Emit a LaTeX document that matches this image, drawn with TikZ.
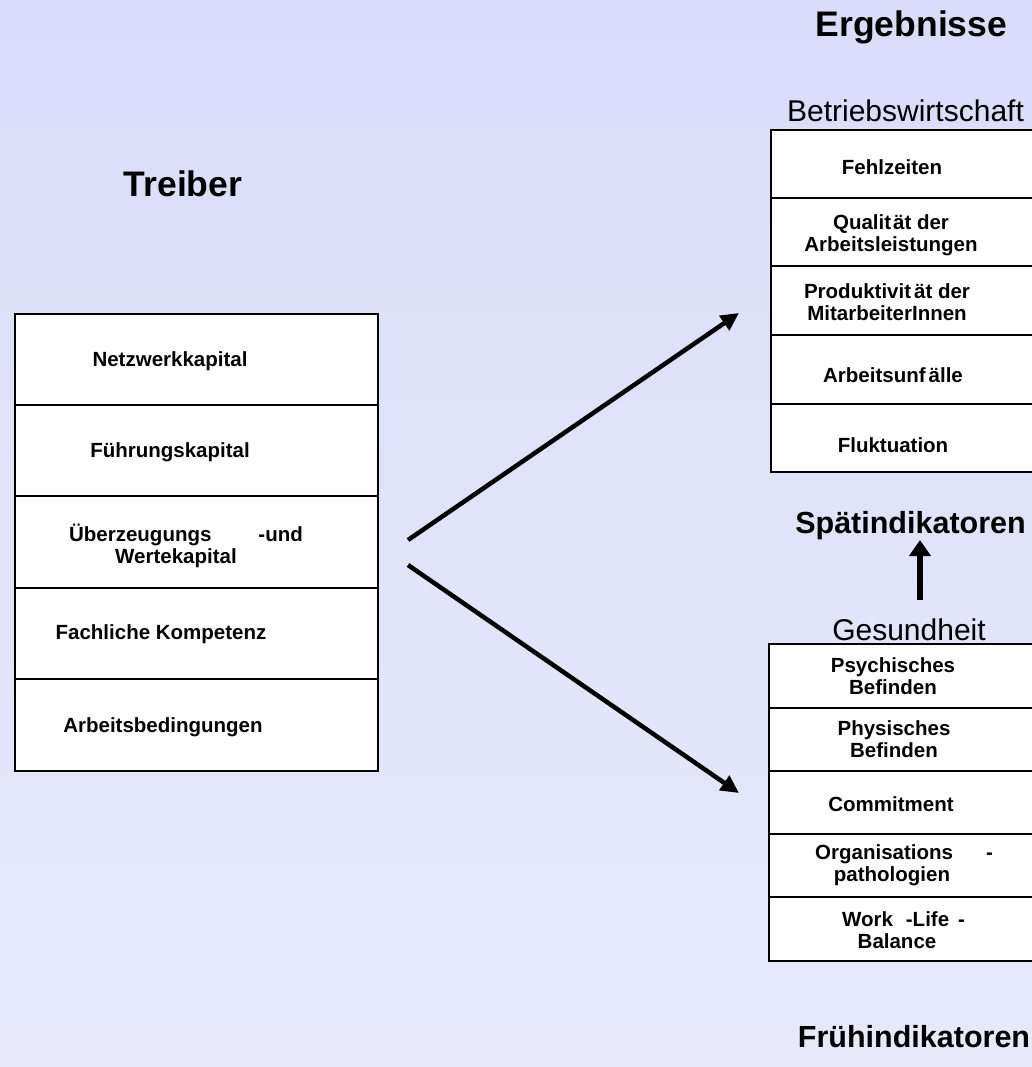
\documentclass[tikz,border=0pt]{standalone}
\usepackage{fontspec}
\setmainfont{Liberation Sans}
\usetikzlibrary{arrows.meta}
\definecolor{bgtop}{RGB}{218,221,250}
\definecolor{bgbottom}{RGB}{231,233,251}
\begin{document}
\begin{tikzpicture}[x=1pt,y=-1pt,
  cell/.style={draw=black, line width=1.8pt, fill=white, anchor=north west, inner sep=0pt},
  celltext/.style={font=\fontsize{20.5}{22}\selectfont\bfseries, align=center, inner sep=0pt},
  heading/.style={font=\fontsize{35.5}{40}\selectfont\bfseries, inner sep=0pt, anchor=base},
  subhead/.style={font=\fontsize{30}{34}\selectfont, inner sep=0pt, anchor=base},
  stage/.style={font=\fontsize{30.5}{34}\selectfont\bfseries, inner sep=0pt, anchor=base},
  flow/.style={line width=4.5pt, -{Triangle[length=18pt,width=17pt]}},
  rise/.style={line width=6pt, -{Triangle[length=16pt,width=21pt]}}]

% page and background
\useasboundingbox (0,0) rectangle (1032,1067);
\shade[top color=bgtop, bottom color=bgbottom] (0,0) rectangle (1032,1067);

% headings
\node[heading] (ergebnisse) at (911.5,37) {Ergebnisse};
\node[heading] (treiber) at (183,197) {Treiber};

% drivers
\node[cell, minimum width=363pt, minimum height=91pt] (l1) at (14,313) {};
\node[cell, minimum width=363pt, minimum height=91pt] (l2) at (14,404) {};
\node[cell, minimum width=363pt, minimum height=92pt] (l3) at (14,495) {};
\node[cell, minimum width=363pt, minimum height=91pt] (l4) at (14,587) {};
\node[cell, minimum width=363pt, minimum height=92pt] (l5) at (14,678) {};

\node[celltext, anchor=base] (t1) at (170,366.5) {Netzwerkkapital};
\node[celltext, anchor=base] (t2) at (170,457.5) {Führungskapital};
\node[celltext] (t3) at (186,546) {Überzeugungs\hspace{47pt}-und\\Wertekapital\rule{20pt}{0pt}};
\node[celltext, anchor=base] (t4) at (161,639.5) {Fachliche Kompetenz};
\node[celltext, anchor=base] (t5) at (163,732.5) {Arbeitsbedingungen};

% business outcomes
\node[subhead] (bw) at (905.5,122) {Betriebswirtschaft};
\node[cell, minimum width=280pt, minimum height=68pt] (r1) at (770,129) {};
\node[cell, minimum width=280pt, minimum height=68pt] (r2) at (770,197) {};
\node[cell, minimum width=280pt, minimum height=69pt] (r3) at (770,265) {};
\node[cell, minimum width=280pt, minimum height=69pt] (r4) at (770,334) {};
\node[cell, minimum width=280pt, minimum height=68pt] (r5) at (770,403) {};

\node[celltext, anchor=base] (s1) at (892,174.5) {Fehlzeiten};
\node[celltext] (s2) at (891,235) {Qualit\hspace{2pt}ät der\\Arbeitsleistungen};
\node[celltext] (s3) at (887,302) {Produktivit\hspace{3pt}ät der\\MitarbeiterInnen};
\node[celltext, anchor=base] (s4) at (893,382.5) {Arbeitsunf\hspace{3pt}älle};
\node[celltext, anchor=base] (s5) at (893,452.5) {Fluktuation};

\node[stage] (spaet) at (910.5,533) {Spätindikatoren};

% health outcomes
\node[subhead] (ges) at (909,640) {Gesundheit};
\node[cell, minimum width=280pt, minimum height=64pt] (g1) at (768,643) {};
\node[cell, minimum width=280pt, minimum height=63pt] (g2) at (768,707) {};
\node[cell, minimum width=280pt, minimum height=63pt] (g3) at (768,770) {};
\node[cell, minimum width=280pt, minimum height=63pt] (g4) at (768,833) {};
\node[cell, minimum width=280pt, minimum height=64pt] (g5) at (768,896) {};

\node[celltext] (h1) at (893,676) {Psychisches\\Befinden};
\node[celltext] (h2) at (894,739) {Physisches\\Befinden};
\node[celltext, anchor=base] (h3) at (891,811.5) {Commitment};
\node[celltext] (h4) at (904,865) {Organisations\hspace{33pt}-\\pathologien\rule{24pt}{0pt}};
\node[celltext] (h5) at (903.5,930) {Work\hspace{13pt}-Life\hspace{9pt}-\\Balance\rule{13pt}{0pt}};

\node[stage] (frueh) at (914,1047) {Frühindikatoren};

% connectors
\coordinate (u0) at (408,540);
\coordinate (u1) at (739,313);
\coordinate (d0) at (408,565);
\coordinate (d1) at (739,793);
\coordinate (v0) at (920,600);
\coordinate (v1) at (920,540);
\draw[flow] (u0) -- (u1);
\draw[flow] (d0) -- (d1);
\draw[rise] (v0) -- (v1);
\end{tikzpicture}
\end{document}
